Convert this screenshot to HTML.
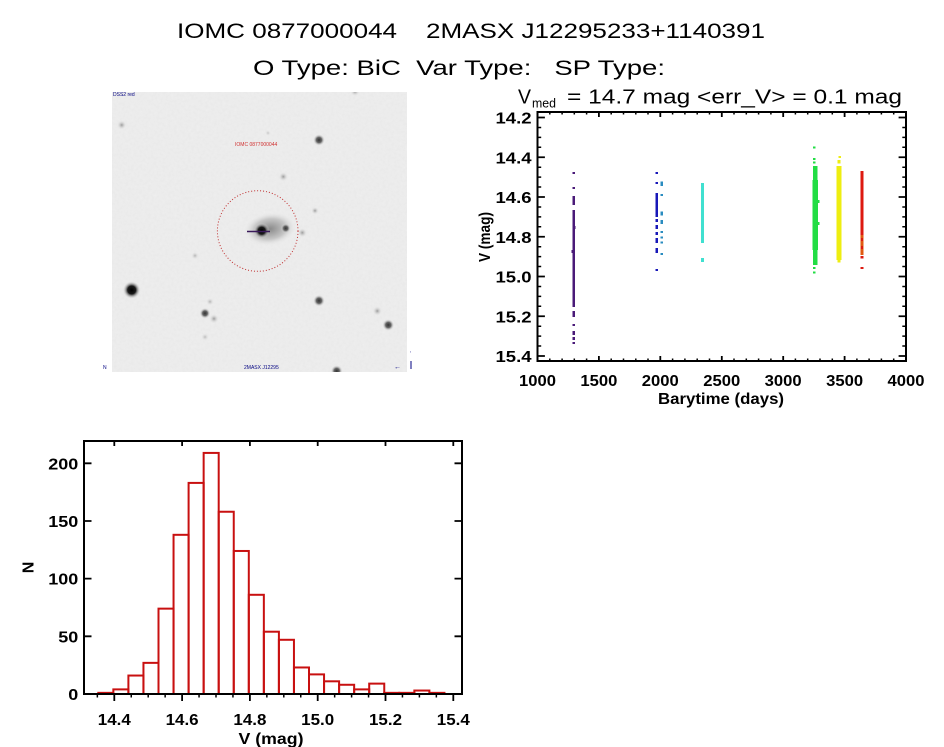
<!DOCTYPE html>
<html><head><meta charset="utf-8"><style>
html,body{margin:0;padding:0;background:#fff;}
svg{display:block;}
text{font-family:"Liberation Sans",sans-serif;}
.pre{white-space:pre;}
</style></head><body>
<svg width="944" height="747" viewBox="0 0 944 747" xmlns="http://www.w3.org/2000/svg">
<rect width="944" height="747" fill="#fff"/>
<defs>
<radialGradient id="s1"><stop offset="0" stop-color="#000"/><stop offset="0.45" stop-color="#1a1a1a"/><stop offset="1" stop-color="#efefef" stop-opacity="0"/></radialGradient>
<radialGradient id="s2"><stop offset="0" stop-color="#333"/><stop offset="0.45" stop-color="#666"/><stop offset="1" stop-color="#efefef" stop-opacity="0"/></radialGradient>
<radialGradient id="s3"><stop offset="0" stop-color="#9a9a9a"/><stop offset="1" stop-color="#efefef" stop-opacity="0"/></radialGradient>
<radialGradient id="gal"><stop offset="0" stop-color="#8a8a8a"/><stop offset="0.6" stop-color="#c6c6c6"/><stop offset="1" stop-color="#efefef" stop-opacity="0"/></radialGradient>
<clipPath id="imgclip"><rect x="112" y="92" width="295" height="280"/></clipPath>
<filter id="noise" x="0" y="0" width="100%" height="100%">
<feTurbulence type="fractalNoise" baseFrequency="0.35" numOctaves="2" seed="3"/>
<feColorMatrix type="matrix" values="0 0 0 0 0.55  0 0 0 0 0.55  0 0 0 0 0.55  0 0 0 0.35 0"/>
</filter>
</defs>

<!-- Titles -->
<text x="177" y="38" font-size="21" class="pre" textLength="588" lengthAdjust="spacingAndGlyphs">IOMC 0877000044    2MASX J12295233+1140391</text>
<text x="253" y="75" font-size="21" class="pre" textLength="412" lengthAdjust="spacingAndGlyphs">O Type: BiC  Var Type:   SP Type:</text>

<!-- Image panel -->
<g clip-path="url(#imgclip)">
<rect x="112" y="92" width="295" height="280" fill="#efefef"/>
<rect x="112" y="92" width="295" height="280" filter="url(#noise)" opacity="0.45"/>
<ellipse cx="270" cy="229" rx="27" ry="17" fill="url(#gal)" transform="rotate(-8 270 229)"/>
<circle cx="261.7" cy="230.7" r="8" fill="url(#s1)"/>
<circle cx="285.7" cy="228.3" r="5" fill="url(#s2)"/>
<circle cx="302.3" cy="232.7" r="5" fill="url(#s3)"/>
<circle cx="131.7" cy="290" r="9" fill="url(#s1)"/>
<circle cx="319" cy="140" r="6" fill="url(#s2)"/>
<circle cx="319" cy="300.7" r="6" fill="url(#s2)"/>
<circle cx="388.3" cy="325" r="6" fill="url(#s2)"/>
<circle cx="205" cy="313.3" r="5.5" fill="url(#s2)"/>
<circle cx="214" cy="318.7" r="5" fill="url(#s3)"/>
<circle cx="121.7" cy="125" r="5" fill="url(#s3)"/>
<circle cx="283.3" cy="176.7" r="5" fill="url(#s3)"/>
<circle cx="315" cy="210.7" r="4" fill="url(#s3)"/>
<circle cx="195" cy="255.7" r="4" fill="url(#s3)" opacity="0.7"/>
<circle cx="210" cy="301.7" r="4" fill="url(#s3)" opacity="0.7"/>
<circle cx="377.3" cy="311" r="5" fill="url(#s3)"/>
<circle cx="205" cy="337" r="4" fill="url(#s3)" opacity="0.6"/>
<circle cx="336.7" cy="371" r="6" fill="url(#s2)"/>
<circle cx="355" cy="91.5" r="5" fill="url(#s3)"/>
<circle cx="268" cy="133" r="3" fill="url(#s3)" opacity="0.5"/>
<line x1="247" y1="231.5" x2="270" y2="231.5" stroke="#3a1a5a" stroke-width="1.5"/>
<circle cx="257.7" cy="231" r="40.3" fill="none" stroke="#c03030" stroke-width="1" stroke-dasharray="1 2"/>
<text x="235" y="146" font-size="5" fill="#d03030">IOMC 0877000044</text>
<text x="113" y="96" font-size="5" fill="#000080">DSS2 red</text>
<text x="244" y="369" font-size="5" fill="#000080">2MASX J12295</text>
</g>
<text x="103" y="369" font-size="5" fill="#000080">N</text>
<text x="394" y="369" font-size="7" fill="#000080">←</text>
<line x1="411" y1="361" x2="411" y2="369" stroke="#000080" stroke-width="1"/>
<text x="410" y="352" font-size="5" fill="#000080">,</text>

<!-- Scatter plot -->
<text x="518" y="103.5" font-size="20" textLength="13" lengthAdjust="spacingAndGlyphs">V</text>
<text x="532" y="107.5" font-size="13" textLength="24" lengthAdjust="spacingAndGlyphs">med</text>
<text x="567" y="103.5" font-size="20" class="pre" textLength="335" lengthAdjust="spacingAndGlyphs">= 14.7 mag &lt;err_V&gt; = 0.1 mag</text>

<!-- points -->
<g fill="#4a1a78">
<rect x="572.5" y="172" width="2.5" height="2"/>
<rect x="572.5" y="187" width="2.5" height="2"/>
<rect x="572.5" y="196" width="2.5" height="9"/>
<rect x="572.5" y="210" width="2.5" height="97"/>
<rect x="573.5" y="226" width="2" height="3"/>
<rect x="571.5" y="250" width="2" height="3"/>
<rect x="572.5" y="311" width="2.5" height="6"/>
<rect x="572.5" y="324" width="2.5" height="2"/>
<rect x="572.5" y="331" width="2.5" height="4"/>
<rect x="572.5" y="337" width="2.5" height="3"/>
<rect x="572.5" y="342" width="2.5" height="2"/>
</g>
<g fill="#1818b8">
<rect x="655.5" y="172" width="2.5" height="2"/>
<rect x="655.5" y="182" width="2.5" height="2"/>
<rect x="655.5" y="193" width="2.5" height="24"/>
<rect x="655.5" y="219" width="2.5" height="3"/>
<rect x="655.5" y="225" width="2.5" height="4"/>
<rect x="655.5" y="232" width="2.5" height="3"/>
<rect x="655.5" y="238" width="2.5" height="5"/>
<rect x="655.5" y="248" width="2.5" height="5"/>
<rect x="655.5" y="269" width="2.5" height="2"/>
</g>
<g fill="#2a8cc0">
<rect x="660.5" y="181.5" width="2.5" height="4.5"/>
<rect x="660.5" y="194" width="2.5" height="2"/>
<rect x="660.5" y="211.5" width="2.5" height="4"/>
<rect x="660.5" y="220" width="2.5" height="4"/>
<rect x="660.5" y="231" width="2.5" height="2"/>
<rect x="660.5" y="236.5" width="2.5" height="2"/>
<rect x="660.5" y="241.5" width="2.5" height="2"/>
<rect x="660.5" y="253" width="2.5" height="2"/>
</g>
<g fill="#40e0d0">
<rect x="701" y="183" width="3" height="60"/>
<rect x="701" y="258" width="3" height="4"/>
</g>
<g fill="#22dd44">
<rect x="813" y="146.5" width="2.5" height="2"/>
<rect x="813" y="158" width="2.5" height="2"/>
<rect x="813" y="161.5" width="2.5" height="2"/>
<rect x="813" y="166" width="4.5" height="99"/>
<rect x="812.5" y="180" width="5.5" height="70"/>
<rect x="818" y="200" width="1.5" height="3"/>
<rect x="818" y="222" width="1.5" height="3"/>
<rect x="813" y="267" width="2.5" height="2"/>
<rect x="813" y="271.5" width="2.5" height="2"/>
</g>
<g fill="#eeee10">
<rect x="838.5" y="156" width="2.5" height="2"/>
<rect x="837.5" y="160" width="3" height="3.5"/>
<rect x="836.5" y="166" width="5" height="94"/>
<rect x="837.5" y="260" width="3" height="2.5"/>
</g>
<g fill="#dd1a10">
<rect x="860.5" y="171" width="3" height="64"/>
<rect x="860.5" y="256" width="3" height="2.5"/>
<rect x="860.5" y="267" width="3" height="2"/>
</g>
<g fill="#e05a10">
<rect x="860.5" y="235" width="3" height="20"/>
</g>
<g fill="#dd1a10">
<rect x="861" y="238" width="2" height="3"/>
<rect x="861" y="246" width="2" height="3"/>
</g>

<!-- axes -->
<rect x="537.5" y="112" width="368.5" height="249" fill="none" stroke="#000" stroke-width="2"/>
<path stroke="#000" stroke-width="1.8" fill="none" d="
M537.5 117.5h7.4M537.5 157.25h7.4M537.5 197h7.4M537.5 236.75h7.4M537.5 276.5h7.4M537.5 316.25h7.4M537.5 356h7.4
M906 117.5h-7.4M906 157.25h-7.4M906 197h-7.4M906 236.75h-7.4M906 276.5h-7.4M906 316.25h-7.4M906 356h-7.4
M598.9 361v-5M660.3 361v-5M721.8 361v-5M783.2 361v-5M844.6 361v-5
M598.9 112v5M660.3 112v5M721.8 112v5M783.2 112v5M844.6 112v5"/>
<path stroke="#000" stroke-width="1.5" fill="none" d="
M537.5 127.44h3.7M537.5 137.38h3.7M537.5 147.31h3.7M537.5 167.19h3.7M537.5 177.13h3.7M537.5 187.06h3.7M537.5 206.94h3.7M537.5 216.88h3.7M537.5 226.81h3.7M537.5 246.69h3.7M537.5 256.63h3.7M537.5 266.56h3.7M537.5 286.44h3.7M537.5 296.38h3.7M537.5 306.31h3.7M537.5 326.19h3.7M537.5 336.13h3.7M537.5 346.06h3.7
M906 127.44h-3.7M906 137.38h-3.7M906 147.31h-3.7M906 167.19h-3.7M906 177.13h-3.7M906 187.06h-3.7M906 206.94h-3.7M906 216.88h-3.7M906 226.81h-3.7M906 246.69h-3.7M906 256.63h-3.7M906 266.56h-3.7M906 286.44h-3.7M906 296.38h-3.7M906 306.31h-3.7M906 326.19h-3.7M906 336.13h-3.7M906 346.06h-3.7
M549.8 361v-2.5M562.1 361v-2.5M574.3 361v-2.5M586.6 361v-2.5M611.2 361v-2.5M623.5 361v-2.5M635.8 361v-2.5M648 361v-2.5M672.6 361v-2.5M684.9 361v-2.5M697.2 361v-2.5M709.5 361v-2.5M734 361v-2.5M746.3 361v-2.5M758.6 361v-2.5M770.9 361v-2.5M795.4 361v-2.5M807.7 361v-2.5M820 361v-2.5M832.3 361v-2.5M856.9 361v-2.5M869.1 361v-2.5M881.4 361v-2.5M893.7 361v-2.5
M549.8 112v2.5M562.1 112v2.5M574.3 112v2.5M586.6 112v2.5M611.2 112v2.5M623.5 112v2.5M635.8 112v2.5M648 112v2.5M672.6 112v2.5M684.9 112v2.5M697.2 112v2.5M709.5 112v2.5M734 112v2.5M746.3 112v2.5M758.6 112v2.5M770.9 112v2.5M795.4 112v2.5M807.7 112v2.5M820 112v2.5M832.3 112v2.5M856.9 112v2.5M869.1 112v2.5M881.4 112v2.5M893.7 112v2.5"/>

<g font-size="16" font-weight="bold" text-anchor="end">
<text x="531.5" y="123.5" textLength="36" lengthAdjust="spacingAndGlyphs">14.2</text>
<text x="531.5" y="163.3" textLength="36" lengthAdjust="spacingAndGlyphs">14.4</text>
<text x="531.5" y="203" textLength="36" lengthAdjust="spacingAndGlyphs">14.6</text>
<text x="531.5" y="242.8" textLength="36" lengthAdjust="spacingAndGlyphs">14.8</text>
<text x="531.5" y="282.5" textLength="36" lengthAdjust="spacingAndGlyphs">15.0</text>
<text x="531.5" y="322.3" textLength="36" lengthAdjust="spacingAndGlyphs">15.2</text>
<text x="531.5" y="362" textLength="36" lengthAdjust="spacingAndGlyphs">15.4</text>
</g>
<g font-size="16" font-weight="bold" text-anchor="middle">
<text x="537.5" y="386" textLength="37" lengthAdjust="spacingAndGlyphs">1000</text>
<text x="598.9" y="386" textLength="37" lengthAdjust="spacingAndGlyphs">1500</text>
<text x="660.3" y="386" textLength="37" lengthAdjust="spacingAndGlyphs">2000</text>
<text x="721.8" y="386" textLength="37" lengthAdjust="spacingAndGlyphs">2500</text>
<text x="783.2" y="386" textLength="37" lengthAdjust="spacingAndGlyphs">3000</text>
<text x="844.6" y="386" textLength="37" lengthAdjust="spacingAndGlyphs">3500</text>
<text x="906" y="386" textLength="37" lengthAdjust="spacingAndGlyphs">4000</text>
<text x="721" y="404" class="pre" textLength="126" lengthAdjust="spacingAndGlyphs">Barytime (days)</text>
<text x="0" y="0" class="pre" transform="translate(490 237) rotate(-90)" textLength="50" lengthAdjust="spacingAndGlyphs">V (mag)</text>
</g>

<!-- Histogram -->
<g fill="none" stroke="#c81010" stroke-width="2">
<rect x="98.3" y="692.85" width="15.05" height="1.15"/>
<rect x="113.35" y="689.39" width="15.05" height="4.61"/>
<rect x="128.4" y="675.54" width="15.05" height="18.46"/>
<rect x="143.45" y="662.86" width="15.05" height="31.14"/>
<rect x="158.5" y="608.64" width="15.05" height="85.36"/>
<rect x="173.55" y="534.82" width="15.05" height="159.18"/>
<rect x="188.6" y="482.91" width="15.05" height="211.09"/>
<rect x="203.65" y="452.92" width="15.05" height="241.08"/>
<rect x="218.7" y="511.75" width="15.05" height="182.25"/>
<rect x="233.75" y="550.97" width="15.05" height="143.03"/>
<rect x="248.8" y="594.8" width="15.05" height="99.2"/>
<rect x="263.85" y="631.71" width="15.05" height="62.29"/>
<rect x="278.9" y="639.79" width="15.05" height="54.21"/>
<rect x="293.95" y="667.47" width="15.05" height="26.53"/>
<rect x="309" y="674.39" width="15.05" height="19.61"/>
<rect x="324.05" y="681.31" width="15.05" height="12.69"/>
<rect x="339.1" y="684.77" width="15.05" height="9.23"/>
<rect x="354.15" y="689.39" width="15.05" height="4.61"/>
<rect x="369.2" y="683.62" width="15.05" height="10.38"/>
<rect x="384.25" y="692.85" width="15.05" height="1.15"/>
<rect x="399.3" y="692.85" width="15.05" height="1.15"/>
<rect x="414.35" y="690.54" width="15.05" height="3.46"/>
<rect x="429.4" y="692.85" width="15.05" height="1.15"/>
</g>
<rect x="84" y="441" width="378" height="253" fill="none" stroke="#000" stroke-width="2"/>
<path stroke="#000" stroke-width="1.8" fill="none" d="
M84 636.3h7.5M84 578.65h7.5M84 521h7.5M84 463.3h7.5
M462 636.3h-7.5M462 578.65h-7.5M462 521h-7.5M462 463.3h-7.5
M114.3 694v7M182.1 694v7M249.9 694v7M317.7 694v7M385.5 694v7M453.3 694v7
M114.3 441v5M182.1 441v5M249.9 441v5M317.7 441v5M385.5 441v5M453.3 441v5"/>
<path stroke="#000" stroke-width="1.5" fill="none" d="
M97.35 694v3.5M131.25 694v3.5M148.2 694v3.5M165.15 694v3.5M199.05 694v3.5M216 694v3.5M232.95 694v3.5M266.85 694v3.5M283.8 694v3.5M300.75 694v3.5M334.65 694v3.5M351.6 694v3.5M368.55 694v3.5M402.45 694v3.5M419.4 694v3.5M436.35 694v3.5"/>
<g font-size="16" font-weight="bold" text-anchor="end">
<text x="78.3" y="700" textLength="10" lengthAdjust="spacingAndGlyphs">0</text>
<text x="78.3" y="642.3" textLength="20" lengthAdjust="spacingAndGlyphs">50</text>
<text x="78.3" y="584.6" textLength="30" lengthAdjust="spacingAndGlyphs">100</text>
<text x="78.3" y="527" textLength="30" lengthAdjust="spacingAndGlyphs">150</text>
<text x="78.3" y="469.3" textLength="30" lengthAdjust="spacingAndGlyphs">200</text>
</g>
<g font-size="16" font-weight="bold" text-anchor="middle">
<text x="114.3" y="725" textLength="33" lengthAdjust="spacingAndGlyphs">14.4</text>
<text x="182.1" y="725" textLength="33" lengthAdjust="spacingAndGlyphs">14.6</text>
<text x="249.9" y="725" textLength="33" lengthAdjust="spacingAndGlyphs">14.8</text>
<text x="317.7" y="725" textLength="33" lengthAdjust="spacingAndGlyphs">15.0</text>
<text x="385.5" y="725" textLength="33" lengthAdjust="spacingAndGlyphs">15.2</text>
<text x="453.3" y="725" textLength="33" lengthAdjust="spacingAndGlyphs">15.4</text>
<text x="271" y="744" class="pre" textLength="65" lengthAdjust="spacingAndGlyphs">V (mag)</text>
<text x="0" y="0" transform="translate(33.5 567.5) rotate(-90)">N</text>
</g>
</svg>
</body></html>
